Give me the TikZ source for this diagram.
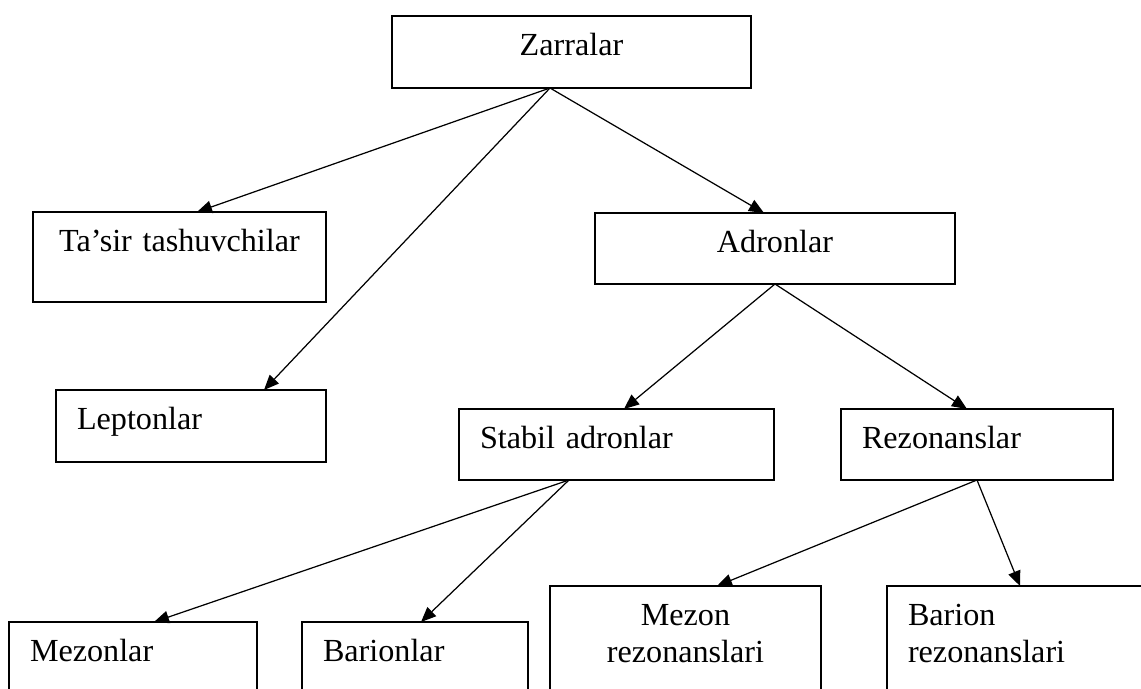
\documentclass[tikz,border=0pt]{standalone}
\usepackage{fontspec}
\setmainfont{Liberation Serif}
\usetikzlibrary{arrows.meta}
\tikzset{
	kasten/.style={draw, line width=1pt, anchor=north west, inner ysep=0pt, outer sep=0pt, text height=0.8cm},
	mitte/.style={align=center, inner xsep=0pt},
	links/.style={align=left, inner xsep=0.42cm},
	pfeil/.style={line width=0.7pt, -{Triangle[length=0.3cm, width=0.25cm]}}
}
\begin{document}
\begin{tikzpicture}[font=\fontsize{18.3pt}{21pt}\selectfont]
		\useasboundingbox (0,0) rectangle (22.82,-13.78);
		\clip (0,0) rectangle (22.82,-13.78);
		%oben
		\node[kasten, mitte, text width=7.18cm, text depth=0.64cm] (zarr) at (7.84,-0.32) {Zarralar};
		%mitte
		\node[kasten, mitte, text width=5.86cm, text depth=1.0cm] (tasir) at (0.66,-4.24) {Ta’sir tashuvchilar};
		\node[kasten, mitte, text width=7.2cm, text depth=0.62cm] (adron) at (11.9,-4.26) {Adronlar};
		\node[kasten, links, text width=4.56cm, text depth=0.64cm] (lepton) at (1.12,-7.8) {Leptonlar};
		\node[kasten, links, text width=5.46cm, text depth=0.62cm] (stabil) at (9.18,-8.18) {Stabil adronlar};
		\node[kasten, links, text width=4.6cm, text depth=0.62cm] (rezon) at (16.82,-8.18) {Rezonanslar};
		%unten
		\node[kasten, links, text width=4.12cm, text depth=1.4cm] (mezon) at (0.18,-12.44) {Mezonlar};
		\node[kasten, links, text width=3.68cm, text depth=1.4cm] (barion) at (6.04,-12.44) {Barionlar};
		\node[kasten, mitte, text width=5.42cm, text depth=1.8cm] (mrez) at (11.0,-11.72) {Mezon\\rezonanslari};
		\node[kasten, links, text width=4.62cm, text depth=1.8cm] (brez) at (17.74,-11.72) {Barion\\rezonanslari};
		%pfeile
		\draw[pfeil] ([xshift=-0.43cm]zarr.south) -- ([xshift=0.35cm]tasir.north);
		\draw[pfeil] ([xshift=-0.43cm]zarr.south) -- ([xshift=1.46cm]lepton.north);
		\draw[pfeil] ([xshift=-0.43cm]zarr.south) -- ([xshift=-0.22cm]adron.north);
		\draw[pfeil] (adron.south) -- ([xshift=0.15cm]stabil.north);
		\draw[pfeil] (adron.south) -- ([xshift=-0.2cm]rezon.north);
		\draw[pfeil] ([xshift=-0.95cm]stabil.south) -- ([xshift=0.42cm]mezon.north);
		\draw[pfeil] ([xshift=-0.95cm]stabil.south) -- ([xshift=0.12cm]barion.north);
		\draw[pfeil] (rezon.south) -- ([xshift=0.63cm]mrez.north);
		\draw[pfeil] (rezon.south) -- ([xshift=2.66cm]brez.north west);
	\end{tikzpicture}
\end{document}
